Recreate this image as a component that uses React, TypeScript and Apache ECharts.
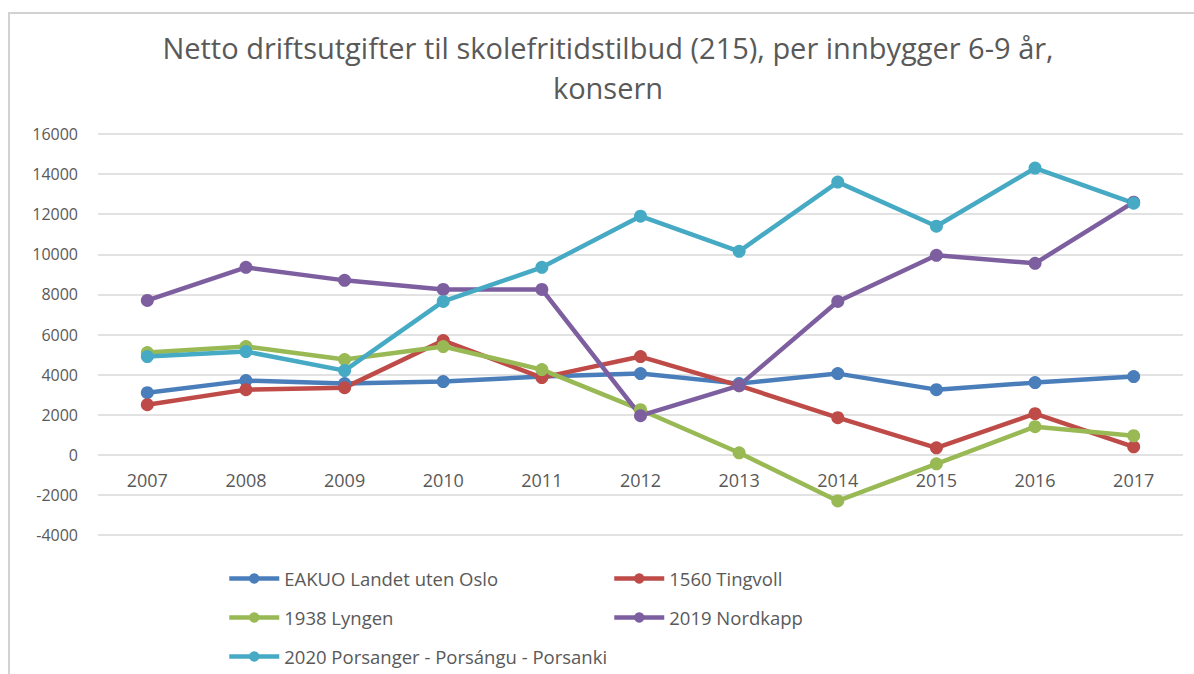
import React, { useEffect, useRef } from "react";
import * as echarts from "echarts";

const years = ["2007", "2008", "2009", "2010", "2011", "2012", "2013", "2014", "2015", "2016", "2017"];
const seriesNames = [
  "EAKUO Landet uten Oslo",
  "1560 Tingvoll",
  "1938 Lyngen",
  "2019 Nordkapp",
  "2020 Porsanger - Porsángu - Porsanki",
];
const eakuo = [3100, 3700, 3550, 3650, 3900, 4050, 3550, 4050, 3250, 3600, 3900];
const tingvoll = [2500, 3250, 3350, 5700, 3850, 4900, 3450, 1850, 350, 2050, 400];
const lyngen = [5100, 5400, 4750, 5400, 4250, 2250, 100, -2300, -450, 1400, 950];
const nordkapp = [7700, 9350, 8700, 8250, 8250, 1950, 3450, 7650, 9950, 9550, 12600];
const porsanger = [4900, 5150, 4200, 7650, 9350, 11900, 10150, 13600, 11400, 14300, 12550];
const colors = ["#4A7EBB", "#BE4B48", "#98B954", "#7D5FA0", "#46AAC5"];
const titleText = "Netto driftsutgifter til skolefritidstilbud (215), per innbygger 6-9 år,\nkonsern";

const FONT = "'Open Sans', sans-serif";
const TEXT_COLOR = "#595959";

export default function App() {
  const ref = useRef<HTMLDivElement>(null);
  useEffect(() => {
    if (!ref.current) return;
    const chart = echarts.init(ref.current, undefined, { renderer: "svg" });
    const data = [eakuo, tingvoll, lyngen, nordkapp, porsanger];
    const legendPos = [
      { left: 227, top: 569 },
      { left: 612, top: 569 },
      { left: 227, top: 608 },
      { left: 612, top: 608 },
      { left: 227, top: 647 },
    ];
    chart.setOption({
      animation: false,
      color: colors,
      title: {
        text: titleText,
        left: 603,
        top: 22,
        textAlign: "center",
        textStyle: {
          fontFamily: FONT,
          fontSize: 29,
          fontWeight: "normal",
          color: TEXT_COLOR,
          lineHeight: 40,
        },
      },
      graphic: [
        {
          type: "rect",
          shape: { x: 9, y: 13, width: 1400, height: 900 },
          style: { fill: "none", stroke: "#d2d2d2", lineWidth: 2 },
          silent: true,
        },
      ],
      legend: seriesNames.map((n, i) => ({
        data: [n],
        left: legendPos[i].left,
        top: legendPos[i].top,
        padding: 0,
        itemWidth: 50,
        itemHeight: 13,
        lineStyle: { width: 4.5 },
        textStyle: { fontFamily: FONT, fontSize: 18.5, color: TEXT_COLOR },
      })),
      grid: { left: 98, right: 11, top: 134, bottom: 139 },
      xAxis: {
        type: "category",
        data: years,
        boundaryGap: true,
        offset: -80,
        axisLine: { show: false, onZero: false },
        axisTick: { show: false },
        axisLabel: { margin: 16, fontFamily: FONT, fontSize: 18, color: TEXT_COLOR },
      },
      yAxis: {
        type: "value",
        min: -4000,
        max: 16000,
        interval: 2000,
        axisLine: { show: false },
        axisTick: { show: false },
        axisLabel: {
          margin: 20,
          fontFamily: FONT,
          fontSize: 16,
          color: TEXT_COLOR,
          formatter: (v: number) => String(v),
        },
        splitLine: { lineStyle: { color: "#d9d9d9", width: 1.5 } },
      },
      series: seriesNames.map((n, i) => ({
        name: n,
        type: "line",
        data: data[i],
        symbol: "circle",
        symbolSize: 13,
        lineStyle: { width: 4.5, color: colors[i] },
        itemStyle: { color: colors[i] },
      })),
    });
    return () => chart.dispose();
  }, []);
  return (
    <div
      ref={ref}
      style={{ position: "fixed", left: 0, top: 0, width: 1194, height: 674, background: "#fff" }}
    />
  );
}
